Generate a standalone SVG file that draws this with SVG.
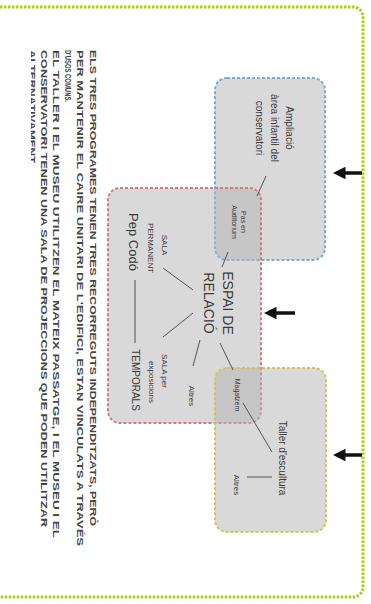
<svg xmlns="http://www.w3.org/2000/svg" width="371" height="604" viewBox="0 0 371 604">
<defs>
<style>
.frame{fill:none;stroke:#a6cf1e;stroke-width:3;stroke-dasharray:2.5 1.5}
.box{fill:#b4b4b4;fill-opacity:0.5;stroke-width:2;stroke-dasharray:3 2}
.blue{stroke:#78acd0}
.red{stroke:#d07a88}
.yel{stroke:#c9c85a}
.body{font-family:"Liberation Sans",Arial,sans-serif;font-weight:bold;font-size:9.5px;fill:#444}
.lbl{font-family:"Liberation Sans",Arial,sans-serif;fill:#3a3a3a;text-anchor:middle}
.ln{stroke:#555;stroke-width:1;fill:none}
.arr{stroke:#111;stroke-width:3.5;fill:none}
</style>
<marker id="ah" viewBox="0 0 10 10" refX="2" refY="5" markerWidth="3.6" markerHeight="3.6" orient="auto">
<path d="M0,0 L10,5 L0,10 z" fill="#111"/>
</marker>
<clipPath id="cut"><rect x="31" y="0" width="340" height="604"/></clipPath>
</defs>

<g id="frame"><path class="frame" d="M0,7 H353 A10,10 0 0 1 363,17 V587 A10,10 0 0 1 353,597 H0"/></g>

<g id="description">
<text class="body" transform="translate(89.5,50) rotate(90)" textLength="476" lengthAdjust="spacingAndGlyphs">ELS TRES PROGRAMES TENEN TRES RECORREGUTS INDEPENDITZATS, PERÒ</text>
<text class="body" transform="translate(77,50) rotate(90)" textLength="496" lengthAdjust="spacingAndGlyphs">PER MANTENIR EL CAIRE UNITARI DE L'EDIFICI, ESTAN VINCULATS A TRAVÉS</text>
<text class="body" transform="translate(64.5,50) rotate(90)" textLength="52" lengthAdjust="spacingAndGlyphs">D'USOS COMUNS.</text>
<text class="body" transform="translate(52.5,50) rotate(90)" textLength="488" lengthAdjust="spacingAndGlyphs">EL TALLER I EL MUSEU UTILITZEN EL MATEIX PASSATGE, I EL MUSEU I EL</text>
<text class="body" transform="translate(40.5,50) rotate(90)" textLength="477" lengthAdjust="spacingAndGlyphs">CONSERVATORI TENEN UNA SALA DE PROJECCIONS QUE PODEN UTILITZAR</text>
<g clip-path="url(#cut)"><text class="body" transform="translate(28.5,50) rotate(90)" textLength="115" lengthAdjust="spacingAndGlyphs">ALTERNATIVAMENT.</text></g>
</g>

<g id="blue-box">
<rect class="box blue" x="215" y="78" width="110" height="182" rx="12"/>
<text class="lbl" font-size="10" transform="translate(286,128) rotate(90)">Ampliació</text>
<text class="lbl" font-size="10" transform="translate(271,128) rotate(90)">àrea infantil del</text>
<text class="lbl" font-size="10" transform="translate(256,128) rotate(90)">conservatori</text>
</g>

<g id="red-box">
<rect class="box red" x="108" y="188" width="153" height="235" rx="12"/>
</g>

<g id="yellow-box">
<rect class="box yel" x="215" y="368" width="111" height="164" rx="12"/>
</g>

<g id="pas">
<text class="lbl" font-size="7" transform="translate(241,222) rotate(90)">Pas en</text>
<text class="lbl" font-size="7" transform="translate(232,222) rotate(90)">Auditorium</text>
</g>

<g id="espai">
<text class="lbl" font-size="14" transform="translate(223,303) rotate(90)">ESPAI DE</text>
<text class="lbl" font-size="14" transform="translate(204,303) rotate(90)">RELACIÓ</text>
</g>

<g id="sala-permanent">
<text class="lbl" font-size="8" transform="translate(162,245) rotate(90)">SALA</text>
<text class="lbl" font-size="8" transform="translate(148,248) rotate(90)">PERMANENT</text>
<text class="lbl" font-size="13" transform="translate(128.5,242) rotate(90)">Pep Codó</text>
</g>

<g id="sala-temporals">
<text class="lbl" font-size="8" transform="translate(162,371) rotate(90)">SALA per</text>
<text class="lbl" font-size="8" transform="translate(149,382) rotate(90)">exposicions</text>
<text class="lbl" font-size="10" transform="translate(131.5,380) rotate(90)">TEMPORALS</text>
</g>

<g id="altres-1"><text class="lbl" font-size="8" transform="translate(189,396) rotate(90)">Altres</text></g>
<g id="magatzem"><text class="lbl" font-size="7" transform="translate(234.5,395) rotate(90)">Magatzem</text></g>
<g id="taller"><text class="lbl" font-size="10" transform="translate(279,458) rotate(90)">Taller d'escultura</text></g>
<g id="altres-2"><text class="lbl" font-size="8" transform="translate(234,485) rotate(90)">Altres</text></g>

<g id="connectors">
<line class="ln" x1="266" y1="176" x2="257" y2="196"/>
<line class="ln" x1="228" y1="252" x2="222" y2="267"/>
<line class="ln" x1="193" y1="290" x2="163" y2="268"/>
<line class="ln" x1="193" y1="313" x2="163" y2="337"/>
<line class="ln" x1="200" y1="340" x2="193" y2="366"/>
<line class="ln" x1="220" y1="343" x2="233" y2="370"/>
<line class="ln" x1="243" y1="403" x2="272" y2="452"/>
<line class="ln" x1="247" y1="477" x2="272" y2="477"/>
<line class="ln" x1="135" y1="280" x2="135" y2="343"/>
<line class="arr" x1="362" y1="173" x2="343" y2="173" marker-end="url(#ah)"/>
<line class="arr" x1="295" y1="313" x2="274" y2="313" marker-end="url(#ah)"/>
<line class="arr" x1="362" y1="455" x2="343" y2="455" marker-end="url(#ah)"/>
</g>
</svg>
